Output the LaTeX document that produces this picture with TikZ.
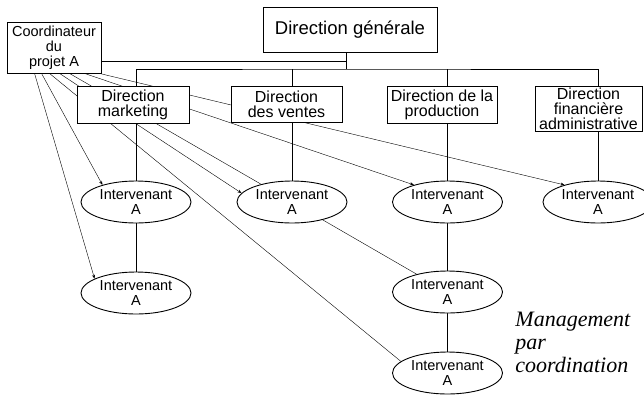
\documentclass[tikz,border=0pt]{standalone}
\usepackage{fontspec}
\setmainfont{Liberation Sans}
\newfontfamily\serifit{Liberation Serif}
\usetikzlibrary{shapes.geometric,arrows.meta,backgrounds}
\tikzset{
  box/.style={draw,fill=white,inner sep=0pt,align=center,font=\fontsize{16}{15}\selectfont},
  interv/.style={ellipse,draw,fill=white,inner sep=0pt,minimum width=110pt,minimum height=42pt,align=center,font=\fontsize{14.5}{15}\selectfont},
  coordline/.style={->,>={Stealth[length=4pt,width=3pt]}}
}
\begin{document}
\begin{tikzpicture}[x=1pt,y=-1pt,line width=0.9pt]
\useasboundingbox (0,0) rectangle (644,394);
\node[box,minimum width=174pt,minimum height=45pt,font=\fontsize{18.5}{20}\selectfont] (dg) at (350,29.5) {Direction générale};
\node[box,minimum width=94pt,minimum height=51pt,font=\fontsize{14.5}{15}\selectfont] (coord) at (54,47.5) {Coordinateur\\du\\projet A};
\node[box,minimum width=112pt,minimum height=37pt] (mkt) at (133,104.5) {Direction\\marketing};
\node[box,minimum width=111pt,minimum height=36pt] (vts) at (286.5,104) {Direction\\des ventes};
\node[box,minimum width=110pt,minimum height=37pt] (prod) at (442,104.5) {Direction de la\\production};
\node[box,minimum width=107pt,minimum height=45pt] (fin) at (588.5,108.5) {Direction\\financière\\administrative};
\node[interv] (i11) at (136,202) {Intervenant\\A};
\node[interv] (i12) at (292,202) {Intervenant\\A};
\node[interv] (i13) at (447.5,202) {Intervenant\\A};
\node[interv] (i14) at (598,202) {Intervenant\\A};
\node[interv] (i21) at (136,293) {Intervenant\\A};
\node[interv] (i22) at (447.5,292) {Intervenant\\A};
\node[interv] (i31) at (447.5,373) {Intervenant\\A};
\node[anchor=west,inner sep=0pt,align=left,font=\serifit\itshape\fontsize{22}{23}\selectfont] (titre) at (515,342.7) {Management\\par\\coordination};
\coordinate (bus) at (346,69);
\begin{pgfonlayer}{background}
\draw (mkt.north -| i11) |- (bus) -| (fin.north -| i14);
\draw (dg.south -| bus) -- (bus);
\draw (bus -| i12) -- (vts.north -| i12);
\draw (bus -| i13) -- (prod.north -| i13);
\draw ([yshift=-13.5pt]coord.east) -- ([yshift=-13.5pt]coord.east -| bus);
\draw (mkt.south -| i11) -- (i11);
\draw (vts.south -| i12) -- (i12);
\draw (prod.south -| i13) -- (i13);
\draw (fin.south -| i14) -- (i14);
\draw (i11) -- (i21);
\draw (i13) -- (i22);
\draw (i22) -- (i31);
\draw[coordline] ([xshift=28pt]coord.south west) -- (i21.161);
\draw[coordline] ([xshift=35pt]coord.south west) -- (i11.153);
\draw ([xshift=43pt]coord.south west) -- (i31.166);
\draw[coordline] ([xshift=53pt]coord.south west) -- (i12.170);
\draw ([xshift=63pt]coord.south west) -- (i22.150);
\draw[coordline] ([xshift=78pt]coord.south west) -- (i13.153);
\draw[coordline] ([xshift=93pt]coord.south west) -- (i14.153);
\end{pgfonlayer}
\end{tikzpicture}
\end{document}
